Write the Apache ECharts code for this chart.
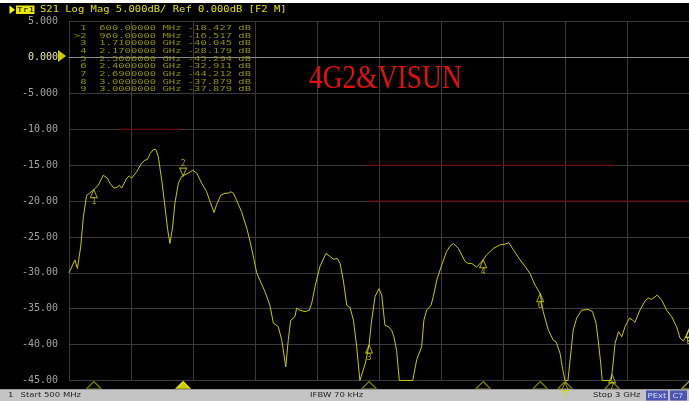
<!DOCTYPE html>
<html>
<head>
<meta charset="utf-8">
<script src="https://cdn.jsdelivr.net/npm/echarts@6/dist/echarts.min.js"></script>
<style>
html,body{margin:0;padding:0;background:#000;}
#c{width:689px;height:401px;}
</style>
</head>
<body>
<div id="c"></div>
<script>
// ---- trace data ----
const freqMHz = [500,524,534,547,558,571,583,600,618,638,645,655,665,681,692,703,712,733,743,753,773,793,806,816,827,840,850,860,874,887,898,907,918,927,941,954,960,981,999,1015,1035,1055,1069,1085,1095,1112,1129,1142,1152,1163,1176,1196,1217,1230,1245,1257,1290,1310,1324,1344,1358,1374,1384,1394,1411,1418,1431,1452,1469,1479,1492,1512,1536,1552,1566,1582,1593,1606,1620,1633,1647,1660,1673,1695,1710,1719,1734,1750,1761,1774,1788,1801,1810,1821,1832,1886,1902,1922,1931,1942,1960,1969,1983,2003,2023,2036,2050,2070,2097,2110,2124,2144,2170,2184,2211,2238,2258,2274,2292,2319,2339,2359,2379,2400,2412,2433,2453,2464,2480,2491,2500,2512,2533,2547,2567,2594,2611,2625,2634,2644,2650,2686,2694,2702,2716,2729,2742,2760,2773,2782,2802,2823,2836,2849,2872,2890,2910,2930,2950,2964,2977,2991,3000];
const s21dB = [-30.0,-28.2,-29.4,-26.4,-22.2,-19.2,-18.9,-18.4,-17.8,-16.4,-16.3,-16.8,-17.5,-18.2,-18.1,-17.8,-18.2,-16.8,-16.5,-16.8,-15.9,-14.7,-14.3,-14.2,-13.4,-12.8,-12.8,-13.8,-17.1,-20.8,-24.0,-25.9,-23.6,-20.3,-17.5,-16.6,-16.5,-16.1,-15.7,-16.1,-17.5,-18.7,-20.1,-21.6,-20.5,-19.2,-18.9,-18.9,-18.7,-18.9,-19.9,-21.5,-23.8,-25.6,-28.0,-30.0,-32.6,-34.5,-37.0,-37.5,-39.4,-43.1,-39.4,-36.6,-36.1,-34.9,-35.2,-35.4,-35.2,-34.2,-31.9,-29.1,-27.3,-27.7,-28.1,-28.0,-28.7,-31.0,-34.5,-34.8,-36.6,-40.3,-45.0,-42.6,-40.0,-37.0,-33.3,-32.2,-33.1,-37.3,-37.5,-38.0,-38.9,-40.8,-45.0,-45.0,-42.1,-40.3,-36.6,-35.2,-34.5,-33.3,-31.0,-28.9,-27.0,-26.3,-25.9,-26.6,-28.4,-28.7,-28.7,-29.2,-28.2,-27.5,-26.6,-26.1,-26.0,-25.8,-26.8,-28.2,-29.1,-30.1,-31.7,-32.9,-35.4,-38.0,-39.4,-39.6,-41.2,-43.5,-45.0,-45.0,-38.0,-36.3,-35.2,-35.1,-35.4,-37.0,-39.4,-42.6,-45.0,-45.0,-42.6,-39.8,-38.2,-38.9,-37.5,-36.3,-36.6,-36.9,-35.2,-33.9,-33.5,-33.7,-33.1,-33.8,-35.2,-36.1,-37.5,-39.1,-39.5,-38.7,-37.9];

// ---- markers ----
const markerNames = ['1','>2','3','4','5','6','7','8','9'];
const markerFreqMHz = [600,960,1710,2170,2500,2400,2690,3000,3000];
const markerDb = [-18.427,-16.517,-40.045,-28.179,-45.294,-32.911,-44.212,-37.879,-37.879];
const activeMarker = 1;

// ---- limit lines ----
const limit1Freq = [700,950],  limit1Db = [-10,-10];
const limit2Freq = [1700,2700], limit2Db = [-15,-15];
const limit3Freq = [1700,3000], limit3Db = [-20,-20];

// ---- axes ----
const yTickValues = [5,0,-5,-10,-15,-20,-25,-30,-35,-40,-45];
const yTickLabels = ['5.000','0.000','-5.000','-10.00','-15.00','-20.00','-25.00','-30.00','-35.00','-40.00','-45.00'];
const xStart = 500, xStop = 3000, xStep = 250;

const headerText = 'S21 Log Mag 5.000dB/ Ref 0.000dB [F2 M]';
const titleText = '4G2&VISUN';

const YEL = '#d4d400';
const pair = (xs, ys) => xs.map((x, i) => [x, ys[i]]);

function fmtFreq(f){ return f < 1000 ? f.toFixed(5) + ' MHz' : (f/1000).toFixed(7) + ' GHz'; }
function pad(s, n){ while (s.length < n) s = ' ' + s; return s; }

const chart = echarts.init(document.getElementById('c'), null, {renderer:'canvas'});

const graphics = [];
// white strip at top
graphics.push({type:'rect', left:0, top:0, shape:{width:689, height:3}, style:{fill:'#ffffff'}, silent:true});
// header arrow and Tr1 box
graphics.push({type:'polygon', shape:{points:[[9.5,5.5],[15,9.7],[9.5,13.9]]}, style:{fill:'#ffff00'}});
graphics.push({type:'rect', shape:{x:16, y:5.5, width:18.5, height:8.5}, style:{fill:'#e8e800'}});
graphics.push({type:'text', x:17, y:9.9, scaleY:0.8, style:{text:'Tr1', fill:'#000', fontSize:9.5, fontFamily:'DejaVu Sans Mono', verticalAlign:'middle'}});
graphics.push({type:'text', x:40, y:9.7, scaleY:0.78, style:{text:headerText, fill:'#e0e000', fontSize:10.5, fontFamily:'DejaVu Sans Mono', verticalAlign:'middle'}});
// marker table
markerNames.forEach((n, i) => {
  const row = pad(n, 2) + '  ' + fmtFreq(markerFreqMHz[i]) + ' ' + markerDb[i].toFixed(3) + ' dB';
  graphics.push({type:'text', x:74, y:27.8 + i*7.7, scaleY:0.74, z:10,
    style:{text:row, fill:'#8e8e00', fontSize:10.5, fontFamily:'DejaVu Sans Mono', verticalAlign:'middle'}});
});
// red title
graphics.push({type:'text', x:309, y:79.5, scaleY:1.22, z:10,
  style:{text:titleText, fill:'#e41010', fontSize:27.5, fontFamily:'Liberation Serif', verticalAlign:'middle'}});
// bottom bar
graphics.push({type:'rect', shape:{x:0, y:389, width:689, height:12}, style:{fill:'#c4c4c4'}});
graphics.push({type:'rect', shape:{x:0, y:389, width:689, height:1}, style:{fill:'#9a9a9a'}});
graphics.push({type:'text', x:8, y:395.5, scaleY:0.85, style:{text:'1', fill:'#222', fontSize:8.5, fontFamily:'DejaVu Sans', verticalAlign:'middle'}});
graphics.push({type:'text', x:20.5, y:395.5, scaleY:0.85, style:{text:'Start 500 MHz', fill:'#222', fontSize:8.5, fontFamily:'DejaVu Sans', verticalAlign:'middle'}});
graphics.push({type:'text', x:310, y:395.5, scaleY:0.85, style:{text:'IFBW 70 kHz', fill:'#222', fontSize:8.5, fontFamily:'DejaVu Sans', verticalAlign:'middle'}});
graphics.push({type:'text', x:593, y:395.5, scaleY:0.85, style:{text:'Stop 3 GHz', fill:'#222', fontSize:8.5, fontFamily:'DejaVu Sans', verticalAlign:'middle'}});
graphics.push({type:'rect', shape:{x:646, y:390.5, width:22, height:10}, style:{fill:'#4c56b0'}});
graphics.push({type:'text', x:647.5, y:395.7, scaleY:0.85, style:{text:'PExt', fill:'#dcdcff', fontSize:8.5, fontFamily:'DejaVu Sans', verticalAlign:'middle'}});
graphics.push({type:'rect', shape:{x:670, y:390.5, width:17, height:10}, style:{fill:'#4c56b0'}});
graphics.push({type:'text', x:672.5, y:395.7, scaleY:0.85, style:{text:'C?', fill:'#dcdcff', fontSize:8.5, fontFamily:'DejaVu Sans', verticalAlign:'middle'}});

const onTrace = markerNames.map((n, i) => {
  const act = i === activeMarker;
  return {
    value:[markerFreqMHz[i], markerDb[i]],
    symbolRotate: act ? 180 : 0,
    symbolOffset: act ? [0, -4] : [0, 4],
    label:{show:true, formatter: n.replace('>', ''), position: act ? 'top' : 'bottom', distance:0,
      color:YEL, fontSize:8, fontFamily:'DejaVu Sans Mono'}
  };
});
const onAxis = markerFreqMHz.map((f, i) => ({
  value:[f, yTickValues[yTickValues.length-1]],
  itemStyle: i === activeMarker ? {color:'#ffff00', borderColor:'#ffff00'} : {color:'rgba(0,0,0,0)', borderColor:'#a4a400'}
}));

chart.setOption({
  backgroundColor:'#000000',
  animation:false,
  graphic:{elements:graphics},
  grid:{left:69, right:0, top:21.7, bottom:20.5},
  xAxis:{type:'value', min:xStart, max:xStop, interval:xStep,
    axisLabel:{show:false}, axisTick:{show:false},
    axisLine:{show:true, lineStyle:{color:'#8a8a8a', width:1}},
    splitLine:{show:true, lineStyle:{color:'#3a3a3a', width:1}}},
  yAxis:{type:'value', min:-45, max:5, interval:5,
    axisTick:{show:false}, axisLine:{show:false},
    splitLine:{show:true, lineStyle:{color:'#3a3a3a', width:1}},
    axisLabel:{margin:11, color:'#a0a0a0', fontSize:10, fontFamily:'DejaVu Sans Mono',
      formatter:(v) => { const k = yTickValues.indexOf(v); const s = k >= 0 ? yTickLabels[k] : ''; return v === 0 ? '{r|' + s + '}' : s; },
      rich:{r:{color:'#e4e4b0', fontSize:10, fontFamily:'DejaVu Sans Mono'}}}},
  series:[
    {type:'line', data:pair(limit1Freq, limit1Db), showSymbol:false, lineStyle:{color:'#7a0000', width:1}, z:3, silent:true},
    {type:'line', data:pair(limit2Freq, limit2Db), showSymbol:false, lineStyle:{color:'#7a0000', width:1}, z:3, silent:true},
    {type:'line', data:pair(limit3Freq, limit3Db), showSymbol:false, lineStyle:{color:'#7a0000', width:1}, z:3, silent:true},
    {type:'line', data:pair(freqMHz, s21dB), showSymbol:false, lineStyle:{color:'#c8c800', width:1}, z:5, silent:true},
    {type:'scatter', data:onTrace, symbol:'triangle', symbolSize:[7,8], clip:false, z:6, silent:true,
      itemStyle:{color:'rgba(0,0,0,0)', borderColor:YEL, borderWidth:1}},
    {type:'scatter', data:onAxis, symbol:'triangle', symbolSize:[14,7], symbolOffset:[0,4.5], clip:false, z:6, silent:true,
      itemStyle:{borderWidth:1}},
    {type:'scatter', data:[[xStart, 0]], symbol:'triangle', symbolRotate:-90, symbolSize:[12,8], symbolOffset:[-7,-1.5], clip:false, z:6, silent:true,
      itemStyle:{color:'#ffff00'}}
  ]
});
</script>
</body>
</html>
